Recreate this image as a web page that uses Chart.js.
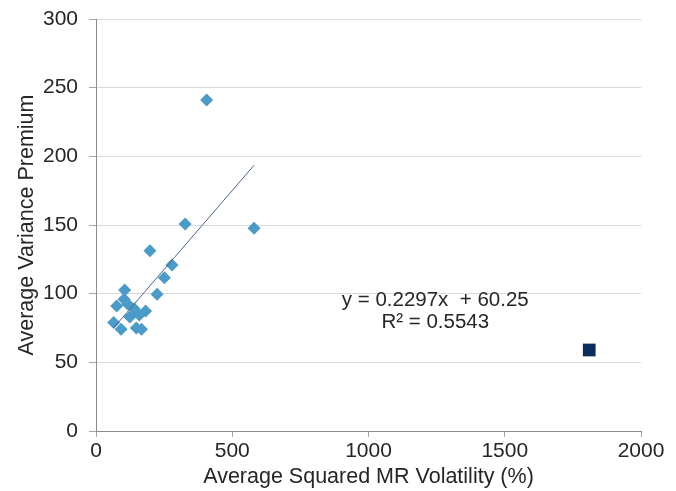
<!DOCTYPE html>
<html>
<head>
<meta charset="utf-8">
<script src="https://cdn.jsdelivr.net/npm/chart.js@4.4.0/dist/chart.umd.min.js"></script>
<style>
  body { margin: 0; background: #fff; }
</style>
</head>
<body>
<canvas id="premiumChart" width="676" height="491"></canvas>
<script>
// scatter: squared MR volatility vs variance premium
const volX = [65, 92, 76, 105, 103, 116, 124, 140, 148, 159, 167, 182, 224, 198, 251, 279, 327, 406, 580];
const premiumY = [79, 74, 91, 102.7, 96, 92.5, 83, 89, 75, 84.5, 74, 87.4, 99.5, 131.3, 111.6, 120.9, 150.7, 241, 147.6];
const outlierX = [1810];
const outlierY = [59];
const xTicks = [0, 500, 1000, 1500, 2000];
const yTicks = [0, 50, 100, 150, 200, 250, 300];
const trendSlope = 0.2297;
const trendIntercept = 60.25;
const eqLines = ['y = 0.2297x  + 60.25', 'R\u00b2 = 0.5543'];

const FONT = "'Liberation Sans', Arial, sans-serif";
const TEXT = '#262626';

const points = volX.map((x, i) => ({ x: x, y: premiumY[i] }));
const outlier = outlierX.map((x, i) => ({ x: x, y: outlierY[i] }));
const xMin = Math.min(...volX), xMax = Math.max(...volX);
const trend = [
  { x: xMin, y: trendSlope * xMin + trendIntercept },
  { x: xMax, y: trendSlope * xMax + trendIntercept }
];

// equation label, placed in data units
const eqLabel = {
  id: 'eqLabel',
  afterDatasetsDraw(chart) {
    const ctx = chart.ctx;
    const sx = chart.scales.x, sy = chart.scales.y;
    ctx.save();
    ctx.font = '20.5px ' + FONT;
    ctx.fillStyle = TEXT;
    ctx.textAlign = 'center';
    ctx.textBaseline = 'middle';
    ctx.fillText(eqLines[0], sx.getPixelForValue(1245), sy.getPixelForValue(95.4));
    ctx.fillText(eqLines[1], sx.getPixelForValue(1245), sy.getPixelForValue(79.4));
    ctx.restore();
  }
};

new Chart(document.getElementById('premiumChart'), {
  type: 'scatter',
  data: {
    datasets: [
      {
        label: 'trend',
        data: trend,
        showLine: true,
        borderColor: '#4a6491',
        borderWidth: 1,
        pointRadius: 0,
        order: 0
      },
      {
        label: 'series',
        data: points,
        pointStyle: 'rectRot',
        pointRadius: 6.5,
        pointBackgroundColor: '#4a9bc8',
        pointBorderColor: '#4a9bc8',
        pointBorderWidth: 0,
        order: 1
      },
      {
        label: 'outlier',
        data: outlier,
        pointStyle: 'rect',
        pointRadius: 9,
        pointBackgroundColor: '#0b2d5c',
        pointBorderColor: '#0b2d5c',
        pointBorderWidth: 0,
        order: 1
      }
    ]
  },
  options: {
    responsive: false,
    animation: false,
    layout: { padding: { top: 19, right: 35, left: 0, bottom: 0 } },
    plugins: { legend: { display: false }, tooltip: { enabled: false } },
    scales: {
      x: {
        type: 'linear',
        min: 0,
        max: 2000,
        afterBuildTicks: (s) => { s.ticks = xTicks.map(v => ({ value: v })); },
        afterFit: (s) => { s.height = 60; },
        grid: { drawOnChartArea: false, tickLength: 6, tickColor: '#a6a6a6' },
        border: { color: '#8c8c8c' },
        ticks: { color: TEXT, font: { family: FONT, size: 21 }, padding: 2, callback: (v) => String(v) },
        title: {
          display: true,
          text: 'Average Squared MR Volatility (%)',
          color: TEXT,
          font: { family: FONT, size: 21.5 },
          padding: { top: 0, bottom: 1 }
        }
      },
      y: {
        type: 'linear',
        min: 0,
        max: 300,
        afterBuildTicks: (s) => { s.ticks = yTicks.map(v => ({ value: v })); },
        afterFit: (s) => { s.width = 96; s.paddingTop = 0; s.paddingBottom = 0; },
        grid: { color: '#d9d9d9', tickLength: 7, tickColor: '#a6a6a6' },
        border: { color: '#8c8c8c' },
        ticks: { color: TEXT, font: { family: FONT, size: 21 }, padding: 11, callback: (v) => String(v) },
        title: {
          display: true,
          text: 'Average Variance Premium',
          color: TEXT,
          font: { family: FONT, size: 21.5 },
          padding: { top: 14, bottom: 0 }
        }
      }
    }
  },
  plugins: [eqLabel]
});
</script>
</body>
</html>
